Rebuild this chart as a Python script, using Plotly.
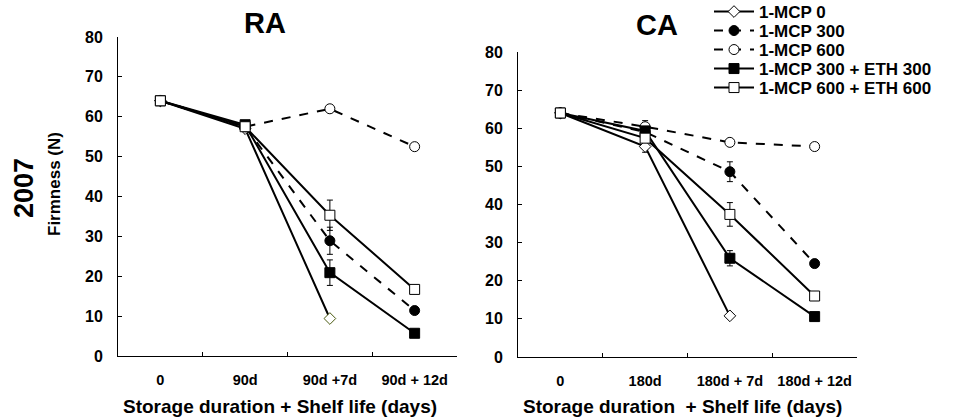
import plotly.graph_objects as go

# ---------------- data ----------------
ra_categories = ["0", "90d", "90d +7d", "90d + 12d"]
ca_categories = ["0", "180d", "180d + 7d", "180d + 12d"]
series_names = ["1-MCP 0", "1-MCP 300", "1-MCP 600", "1-MCP 300 + ETH 300", "1-MCP 600 + ETH 600"]

ra_mcp0 = [64, 57.0, 9.4, None]
ra_mcp300 = [64, 57.5, 28.9, 11.4]
ra_mcp600 = [64, 57.5, 62.0, 52.5]
ra_mcp300_eth = [64, 58.0, 20.9, 5.7]
ra_mcp600_eth = [64, 57.5, 35.3, 16.7]

ra_err_mcp0 = [None, None, None, None]
ra_err_mcp300 = [None, None, 3.4, None]
ra_err_mcp600 = [None, None, 0.8, None]
ra_err_mcp300_eth = [None, None, 3.2, None]
ra_err_mcp600_eth = [None, None, 3.8, None]

ca_mcp0 = [64, 55.2, 10.8, None]
ca_mcp300 = [64, 59.0, 48.6, 24.5]
ca_mcp600 = [64, 60.4, 56.3, 55.2]
ca_mcp300_eth = [64, 59.3, 25.9, 10.6]
ca_mcp600_eth = [64, 57.4, 37.4, 16.0]

ca_err_mcp0 = [None, 1.5, None, None]
ca_err_mcp300 = [None, None, 2.6, None]
ca_err_mcp600 = [None, 1.6, None, None]
ca_err_mcp300_eth = [None, None, 2.0, None]
ca_err_mcp600_eth = [None, None, 3.1, None]

y_ticks = [0, 10, 20, 30, 40, 50, 60, 70, 80]

# ---------------- styles ----------------
FONT = "Arial, Liberation Sans, sans-serif"
styles = [
    dict(symbol="diamond", fill="white", dash="solid", size=9),
    dict(symbol="circle", fill="black", dash="dash", size=10),
    dict(symbol="circle", fill="white", dash="dash", size=10),
    dict(symbol="square", fill="black", dash="solid", size=10),
    dict(symbol="square", fill="white", dash="solid", size=10),
]
legend_ids = ["legend", "legend2", "legend3", "legend4", "legend5"]
legend_rows_px = [12, 31, 50, 69, 88]

ra_values = [ra_mcp0, ra_mcp300, ra_mcp600, ra_mcp300_eth, ra_mcp600_eth]
ra_errors = [ra_err_mcp0, ra_err_mcp300, ra_err_mcp600, ra_err_mcp300_eth, ra_err_mcp600_eth]
ca_values = [ca_mcp0, ca_mcp300, ca_mcp600, ca_mcp300_eth, ca_mcp600_eth]
ca_errors = [ca_err_mcp0, ca_err_mcp300, ca_err_mcp600, ca_err_mcp300_eth, ca_err_mcp600_eth]

fig = go.Figure()

def add_panel(cats, values, errors, xa, ya, showlegend):
    for i, (name, vals, errs) in enumerate(zip(series_names, values, errors)):
        st = styles[i]
        line_colors = "black"
        if xa == "x" and i == 0:
            line_colors = ["black", "black", "#4a5a10", "black"]
        fig.add_trace(go.Scatter(
            x=cats, y=vals, name=name, xaxis=xa, yaxis=ya,
            mode="lines+markers", showlegend=showlegend, legend=legend_ids[i],
            line=dict(color="black", width=2, dash=st["dash"]),
            marker=dict(symbol=st["symbol"], size=st["size"], color=st["fill"],
                        line=dict(color=line_colors, width=1)),
            error_y=dict(type="data", array=errs, visible=True, color="black",
                         thickness=1, width=3),
            connectgaps=False,
        ))

add_panel(ra_categories, ra_values, ra_errors, "x", "y", False)
add_panel(ca_categories, ca_values, ca_errors, "x2", "y2", True)

xcommon = dict(type="category", range=[-0.5, 3.5], tickson="boundaries",
               ticks="inside", ticklen=4, tickcolor="black", showline=True,
               linecolor="black", linewidth=1, showgrid=False, zeroline=False,
               tickfont=dict(family=FONT, size=14.5, color="black", weight="bold"),
               ticklabelstandoff=11, fixedrange=True)
ycommon = dict(range=[0, 80], tickvals=y_ticks, ticks="inside", ticklen=4,
               tickcolor="black", showline=True, linecolor="black", linewidth=1,
               showgrid=False, zeroline=False,
               tickfont=dict(family=FONT, size=16, color="black", weight="bold"),
               ticklabelstandoff=11, fixedrange=True)

W, H = 956, 420
fig.update_layout(
    width=W, height=H,
    margin=dict(l=0, r=0, t=0, b=0, autoexpand=False),
    paper_bgcolor="white", plot_bgcolor="white",
    xaxis=dict(domain=[118 / W, 457 / W], anchor="y", **xcommon),
    yaxis=dict(domain=[1 - 356 / H, 1 - 37 / H], anchor="x", **ycommon),
    xaxis2=dict(domain=[518 / W, 857 / W], anchor="y2", **xcommon),
    yaxis2=dict(domain=[1 - 357 / H, 1 - 52 / H], anchor="x2", **ycommon),
    showlegend=True,
)
for lid, ypx in zip(legend_ids, legend_rows_px):
    fig.update_layout({lid: dict(
        x=709 / W, y=1 - ypx / H, xanchor="left", yanchor="middle",
        font=dict(family=FONT, size=17, color="black", weight="bold"),
        bgcolor="rgba(0,0,0,0)", itemwidth=40)})

def ann(text, x, y, size, angle=0):
    fig.add_annotation(text=text, x=x / W, y=1 - y / H, xref="paper", yref="paper",
                       showarrow=False, textangle=angle, xanchor="center", yanchor="middle",
                       font=dict(family=FONT, size=size, color="black", weight="bold"))

ann("RA", 265, 23, 29)
ann("CA", 657, 25, 29)
ann("2007", 24, 188, 27, -90)
ann("Firmness (N)", 54, 184, 17, -90)
ann("Storage duration + Shelf life (days)", 280, 406, 19)
ann("Storage duration  + Shelf life (days)", 682, 406, 19)

fig.write_html("out.html")
